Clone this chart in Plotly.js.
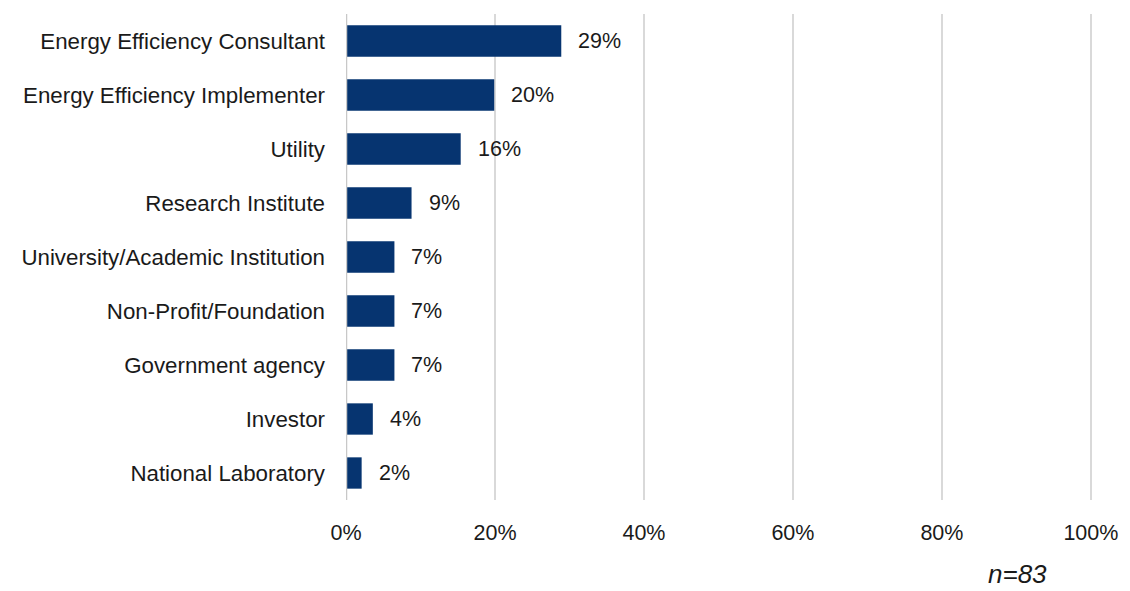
<!DOCTYPE html>
<html>
<head>
<meta charset="utf-8">
<script src="https://cdn.plot.ly/plotly-3.0.1.min.js"></script>
<style>html,body{margin:0;padding:0;background:#fff;}#chart{width:1130px;height:591px;}</style>
</head>
<body>
<div id="chart"></div>
<script>
const categories = [
  "Energy Efficiency Consultant",
  "Energy Efficiency Implementer",
  "Utility",
  "Research Institute",
  "University/Academic Institution",
  "Non-Profit/Foundation",
  "Government agency",
  "Investor",
  "National Laboratory"
];
const values = [28.9, 19.9, 15.4, 8.8, 6.5, 6.5, 6.5, 3.6, 2.1];
const labels = ["29%", "20%", "16%", "9%", "7%", "7%", "7%", "4%", "2%"];
const xTicks = [0, 20, 40, 60, 80, 100];
const xTickText = ["0%", "20%", "40%", "60%", "80%", "100%"];
const sampleNote = "n=83";

const fontFamily = "Liberation Sans, Arial, sans-serif";

const trace = {
  type: "bar",
  orientation: "h",
  y: categories,
  x: values,
  marker: {color: "#063470"},
  width: 0.58,
  hoverinfo: "none"
};

const annotations = categories.map((c, i) => ({
  x: values[i], y: c, xref: "x", yref: "y",
  text: labels[i], showarrow: false,
  xanchor: "left", xshift: 15,
  font: {family: fontFamily, size: 21.5, color: "#1a1a1a"}
}));
annotations.push({
  x: (1017 - 346) / (1091 - 346),
  y: -(590 - 500) / (500 - 14),
  xref: "paper", yref: "paper",
  xanchor: "center", yanchor: "bottom",
  borderpad: 0,
  text: "<i>" + sampleNote + "</i>", showarrow: false,
  font: {family: fontFamily, size: 26, color: "#1a1a1a"}
});

const layout = {
  width: 1130, height: 591,
  margin: {l: 346, r: 38, t: 14, b: 91},
  paper_bgcolor: "#ffffff",
  plot_bgcolor: "#ffffff",
  showlegend: false,
  font: {family: fontFamily, size: 21.5, color: "#1a1a1a"},
  xaxis: {
    range: [0, 100.15],
    tickvals: xTicks, ticktext: xTickText,
    showgrid: true, gridcolor: "#d9d9d9", gridwidth: 1.5,
    zeroline: false, showline: false,
    ticks: "", ticklabelstandoff: 17,
    fixedrange: true
  },
  yaxis: {
    autorange: "reversed",
    showgrid: false, zeroline: false,
    showline: false, ticks: "",
    ticklabelstandoff: 20,
    tickfont: {family: fontFamily, size: 22.3, color: "#1a1a1a"},
    fixedrange: true
  },
  shapes: [{
    type: "line", xref: "x", yref: "paper",
    x0: 0, x1: 0, y0: 0, y1: 1,
    line: {color: "#c8c8c8", width: 2.5}
  }],
  annotations: annotations
};

Plotly.newPlot("chart", [trace], layout, {displayModeBar: false, staticPlot: true});
</script>
</body>
</html>
